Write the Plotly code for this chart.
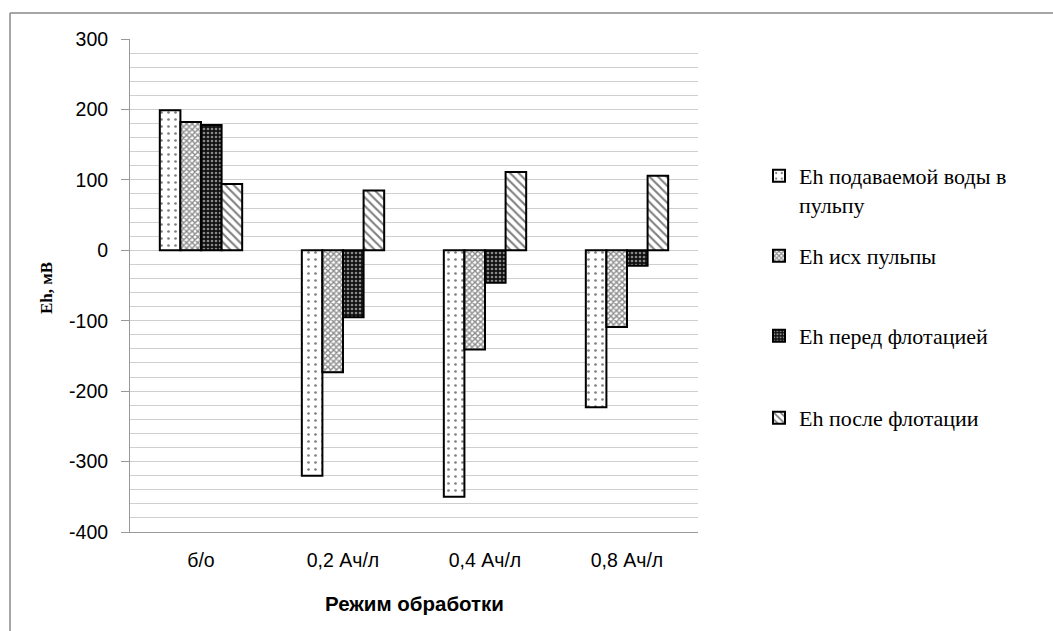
import plotly.graph_objects as go

# Режимы обработки (категории по оси X)
categories = ["б/о", "0,2 Ач/л", "0,4 Ач/л", "0,8 Ач/л"]

# Окислительно-восстановительный потенциал, мВ
eh_water = [199, -320, -350, -223]        # подаваемая вода в пульпу
eh_pulp = [182, -173, -141, -109]         # исходная пульпа
eh_before = [178, -95, -46, -22]          # перед флотацией
eh_after = [94, 85, 111, 106]             # после флотации

series_names = [
    "Eh подаваемой воды в<br>пульпу",
    "Eh исх пульпы",
    "Eh перед флотацией",
    "Eh после флотации",
]
series_values = [eh_water, eh_pulp, eh_before, eh_after]

# Деления оси Y (с обычным дефисом вместо знака минус)
y_ticks = [300, 200, 100, 0, -100, -200, -300, -400]
y_ticktext = [str(v) for v in y_ticks]

patterns = [
    dict(shape=".", fgcolor="black", bgcolor="white", size=7, solidity=0.12),
    dict(shape="x", fgcolor="#1a1a1a", bgcolor="white", size=4, solidity=0.6),
    dict(shape=".", fgcolor="white", bgcolor="#111111", size=4, solidity=0.35),
    dict(shape="\\", fgcolor="black", bgcolor="white", size=6, solidity=0.35),
]

W, H = 1053, 631
L, R, T, B = 130, 698, 39, 532


def px(x):
    return (x - L) / (R - L)


def py(y):
    return (B - y) / (B - T)


legend_ids = ["legend", "legend2", "legend3", "legend4"]
legend_y = [190.5, 256, 336, 418]

fig = go.Figure()
for name, vals, pat, lid in zip(series_names, series_values, patterns, legend_ids):
    fig.add_trace(go.Bar(
        x=categories, y=vals, name=name, legend=lid,
        marker=dict(color="white", pattern=pat,
                    line=dict(color="black", width=2)),
    ))

legend_font = dict(family="Liberation Serif, Times New Roman, serif", size=22, color="black")
legend_layout = {}
for lid, ly in zip(legend_ids, legend_y):
    legend_layout[lid] = dict(
        x=px(759), y=py(ly), xanchor="left", yanchor="middle",
        font=legend_font, valign="top",
        bgcolor="rgba(0,0,0,0)", itemwidth=30,
    )

fig.update_layout(
    width=W, height=H,
    margin=dict(l=L, r=W - R, t=T, b=H - B),
    paper_bgcolor="white", plot_bgcolor="white",
    barmode="group", bargap=0.42, bargroupgap=0,
    font=dict(family="Liberation Sans", color="black"),
    showlegend=True,
    **legend_layout,
)

fig.update_yaxes(
    range=[-400, 300], tickvals=y_ticks, ticktext=y_ticktext,
    tickfont=dict(family="Liberation Sans", size=19.5, color="black"),
    ticks="outside", ticklen=8, tickcolor="#999999", ticklabelstandoff=9,
    showline=True, linecolor="#999999", linewidth=1,
    showgrid=True, gridcolor="#cfcfcf", gridwidth=1,
    minor=dict(dtick=20, showgrid=True, gridcolor="#cfcfcf", gridwidth=1),
    zeroline=False,
)
fig.update_xaxes(
    tickfont=dict(family="Liberation Sans", size=19.5, color="black"),
    showline=True, linecolor="#999999", linewidth=1,
    ticks="", showgrid=False, ticklabelstandoff=11,
)

# Подписи осей
fig.add_annotation(
    text="<b>Eh, мВ</b>", textangle=-90,
    x=px(46), y=py(288), xref="paper", yref="paper",
    xanchor="center", yanchor="middle",
    showarrow=False,
    font=dict(family="Liberation Serif, Times New Roman, serif", size=17, color="black"),
)
fig.add_annotation(
    text="<b>Режим обработки</b>",
    x=0.5, y=py(603), xref="paper", yref="paper",
    xanchor="center", yanchor="middle",
    showarrow=False,
    font=dict(family="Liberation Sans", size=20.5, color="black"),
)

# Рамка области диаграммы
fig.add_shape(type="line", xref="paper", yref="paper",
              x0=px(10), y0=py(13), x1=px(1060), y1=py(13),
              line=dict(color="#888888", width=1.5))
fig.add_shape(type="line", xref="paper", yref="paper",
              x0=px(10), y0=py(13), x1=px(10), y1=py(640),
              line=dict(color="#888888", width=1.5))

fig.write_html("out.html")
